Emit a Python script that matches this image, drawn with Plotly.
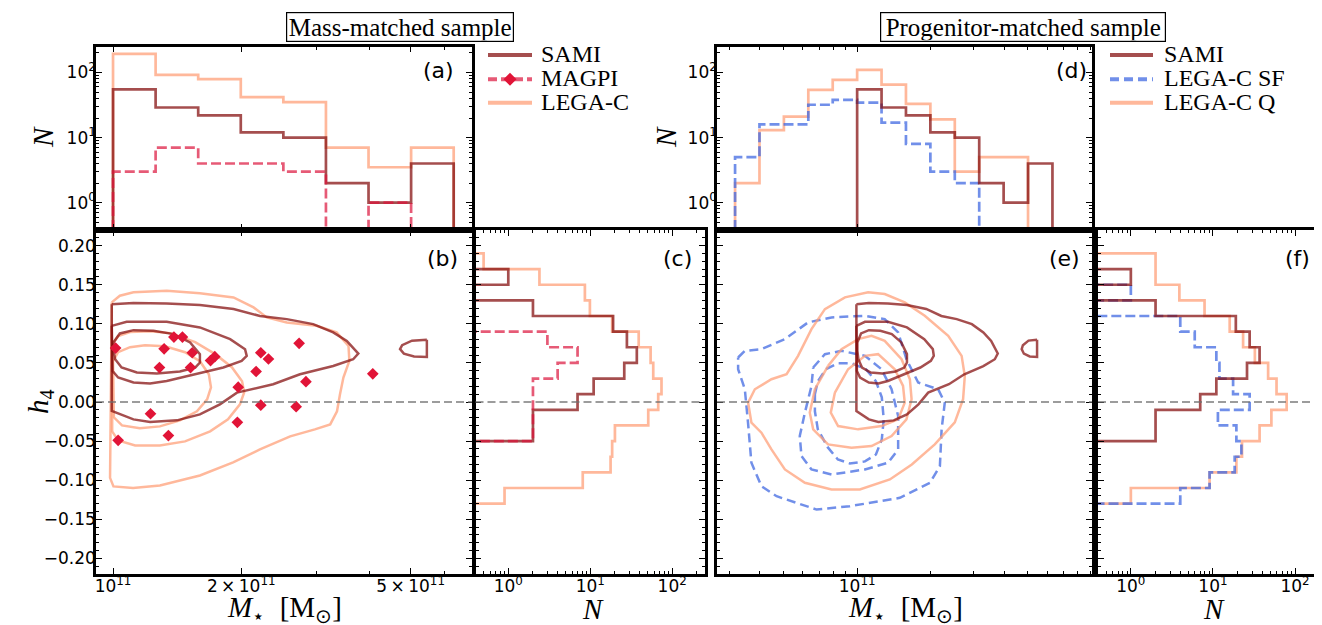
import numpy as np
import plotly.graph_objects as go

# page body adds an 8 px margin; the figure is sized so that it fills the 1322x625 window from there
OFF = 8
W, H = 1322 - OFF, 625 - OFF

# ---------------- data ----------------
# panel (a): stellar-mass histograms, mass-matched sample (bin edges in log10 M*)
mass_edges_a = [11.0, 11.1, 11.2, 11.3, 11.4, 11.5, 11.6, 11.7, 11.8]
legac_a = [194, 92, 79, 42, 35, 7, 3.5, 7]
sami_a = [55, 29, 22, 12, 10, 2, 1, 4]
magpi_a = [3, 7, 4, 4, 3, 0, 1, 0]

# panel (d): progenitor-matched sample
mass_edges_d = [10.5, 10.6, 10.7, 10.8, 10.9, 11.0, 11.1, 11.2, 11.3, 11.4, 11.5, 11.6, 11.7, 11.8]
legac_q_d = [2, 13, 21, 54, 77, 110, 65, 33, 19, 3, 5, 5, 0]
legac_sf_d = [5, 16, 16, 32, 38, 34.5, 17, 8, 3, 2, 0, 0, 0]
sami_d = [0, 0, 0, 0, 0, 55, 29, 22, 12, 10, 2, 1, 4]

# panels (c), (f): h4 histograms
h4_edges = [-0.13, -0.11, -0.09, -0.07, -0.05, -0.03, -0.01, 0.01, 0.03,
            0.05, 0.07, 0.09, 0.11, 0.13, 0.15, 0.17, 0.19]
sami_h4 = [0, 0, 0, 0, 2, 2, 7, 11, 26, 37, 28, 19, 2, 0, 1, 0]
magpi_h4 = [0, 0, 0, 0, 2, 2, 2, 2, 4, 7, 3, 0, 0, 0, 0, 0]
legac_h4_c = [0.9, 8.1, 17.7, 18.5, 20, 51, 67.5, 74, 58.7, 54.5, 39, 18.5, 9.9, 8.6, 2.4, 0.5]
legac_q_h4 = [1.0, 9.1, 19.3, 22.6, 37, 51.5, 79, 59.5, 47, 32.4, 23.3, 16, 7.9, 3.9, 2.0, 2.0]
legac_sf_h4 = [4, 9.1, 18.4, 22.2, 19.3, 11.5, 28, 17.6, 12, 11, 6, 4, 0, 1, 0, 0]

# MAGPI individual galaxies (log10 M*, h4)
magpi_logm = [11.006, 11.120, 11.143, 11.163, 11.186, 11.109, 11.182, 11.229, 11.239, 11.347, 11.365,
              11.437, 11.336, 11.453, 11.610, 11.294, 11.347, 11.430, 11.088, 11.292, 11.012, 11.130]
magpi_h4_pts = [0.069, 0.068, 0.083, 0.083, 0.063, 0.044, 0.044, 0.053, 0.058, 0.063, 0.055,
                0.075, 0.039, 0.026, 0.036, 0.019, -0.004, -0.006, -0.015, -0.026, -0.049, -0.043]

# density contours (log10 M*, h4)
sami_c1_m = [10.997, 11.048, 11.126, 11.204, 11.283, 11.345, 11.408, 11.470, 11.517, 11.549, 11.576, 11.564,
             11.517, 11.439, 11.376, 11.314, 11.291, 11.251, 11.204, 11.150, 11.087, 11.048, 10.997]
sami_c1_h = [0.125, 0.1265, 0.126, 0.124, 0.119, 0.110, 0.106, 0.0996, 0.089, 0.078, 0.062, 0.0547,
             0.046, 0.0355, 0.0227, 0.015, 0.012, -0.003, -0.0158, -0.0235, -0.0256, -0.0222, -0.0115]
sami_c2_m = [10.997, 11.032, 11.126, 11.204, 11.275, 11.310, 11.314, 11.302, 11.259, 11.189, 11.126,
             11.087, 11.048, 11.012, 10.999]
sami_c2_h = [0.0974, 0.1026, 0.1026, 0.0954, 0.0804, 0.0676, 0.059, 0.0526, 0.0441, 0.0346, 0.0269,
             0.0236, 0.0249, 0.0313, 0.0397]
sami_c3_m = [11.001, 11.016, 11.048, 11.095, 11.142, 11.181, 11.204, 11.204, 11.193, 11.157, 11.103,
             11.056, 11.020, 11.005, 11.001]
sami_c3_h = [0.0762, 0.0877, 0.0919, 0.091, 0.0868, 0.0762, 0.0612, 0.0505, 0.0441, 0.039, 0.0364,
             0.0377, 0.0441, 0.0547, 0.0654]
sami_isl_m = [11.737, 11.702, 11.679, 11.674, 11.683, 11.707, 11.737]
sami_isl_h = [0.0795, 0.0785, 0.0727, 0.0676, 0.0618, 0.0582, 0.0577]

legac_c1_m = [10.997, 11.016, 11.048, 11.126, 11.204, 11.283, 11.330, 11.361, 11.408, 11.478, 11.525, 11.553,
              11.555, 11.541, 11.533, 11.526, 11.510, 11.474, 11.416, 11.345, 11.282, 11.204, 11.110,
              11.047, 11.001, 10.993]
legac_c1_h = [0.1274, 0.1359, 0.1403, 0.1423, 0.139, 0.1338, 0.121, 0.1082, 0.1018, 0.0974, 0.089, 0.0718,
              0.0526, 0.0313, 0.0099, -0.0119, -0.0286, -0.035, -0.044, -0.0606, -0.0773, -0.094, -0.1068,
              -0.11, -0.108, -0.097]
legac_c2_m = [10.998, 11.012, 11.040, 11.087, 11.134, 11.193, 11.240, 11.279, 11.303, 11.308, 11.298,
              11.270, 11.228, 11.169, 11.110, 11.052, 11.012, 10.998]
legac_c2_h = [0.074, 0.0842, 0.0894, 0.0906, 0.0881, 0.0765, 0.0612, 0.0445, 0.0265, 0.0124, -0.0029,
              -0.0222, -0.0376, -0.0504, -0.0555, -0.0555, -0.0491, -0.0376]
legac_c3_m = [11.000, 11.012, 11.040, 11.075, 11.122, 11.169, 11.204, 11.225, 11.230, 11.221, 11.197,
              11.157, 11.110, 11.063, 11.021, 11.002]
legac_c3_h = [0.0522, 0.0637, 0.0701, 0.0727, 0.0714, 0.0637, 0.0522, 0.0355, 0.0188, 0.0035, -0.0119,
              -0.0235, -0.0312, -0.0337, -0.0299, -0.0196]

sf_c1_m = [10.5125, 10.540, 10.608, 10.704, 10.799, 10.895, 11.032, 11.113, 11.168, 11.202, 11.250, 11.332,
           11.359, 11.346, 11.339, 11.298, 11.175, 10.970, 10.834, 10.670, 10.608, 10.567, 10.553, 10.540,
           10.5125]
sf_c1_h = [0.0569, 0.0654, 0.0676, 0.0804, 0.1018, 0.1082, 0.1103, 0.106, 0.089, 0.0547, 0.0249, 0.0163,
           -0.0008, -0.035, -0.082, -0.1033, -0.1226, -0.1333, -0.1376, -0.1205, -0.1077, -0.0777, -0.0264,
           0.0163, 0.0419]
sf_c2_m = [10.820, 10.868, 10.936, 11.032, 11.100, 11.141, 11.168, 11.168, 11.127, 11.032, 10.895, 10.813,
           10.772, 10.765, 10.786, 10.813]
sf_c2_h = [0.0441, 0.0612, 0.0654, 0.059, 0.0419, 0.0163, -0.018, -0.0606, -0.0777, -0.0863, -0.0927,
           -0.0863, -0.0692, -0.0436, -0.0136, 0.0205]
sf_c3_m = [10.827, 10.839, 10.872, 10.921, 10.978, 11.036, 11.077, 11.101, 11.109, 11.101, 11.077, 11.032,
           10.970, 10.921, 10.880, 10.839, 10.827]
sf_c3_h = [0.0099, 0.0265, 0.0419, 0.0496, 0.0496, 0.0419, 0.0265, 0.006, -0.0222, -0.0478, -0.0671,
           -0.076, -0.0786, -0.0735, -0.0581, -0.035, -0.0119]

q_c1_m = [10.5535, 10.581, 10.649, 10.711, 10.758, 10.813, 10.868, 10.950, 11.045, 11.113, 11.195, 11.277,
          11.373, 11.428, 11.441, 11.434, 11.400, 11.318, 11.224, 11.134, 11.011, 10.895, 10.786, 10.704,
          10.649, 10.608, 10.567]
q_c1_h = [-0.0008, 0.0163, 0.0291, 0.0355, 0.059, 0.0932, 0.1188, 0.1338, 0.1403, 0.1381, 0.1274, 0.1103,
          0.0846, 0.059, 0.0333, 0.0035, -0.026, -0.0542, -0.0799, -0.0991, -0.1119, -0.1119, -0.1033,
          -0.0863, -0.0606, -0.0392, -0.0264]
q_c2_m = [10.881, 10.936, 11.004, 11.059, 11.113, 11.182, 11.216, 11.223, 11.202, 11.141, 11.059, 10.977,
          10.881, 10.820, 10.806, 10.827]
q_c2_h = [0.0462, 0.0676, 0.0804, 0.0846, 0.0782, 0.0547, 0.0291, 0.0035, -0.0222, -0.0436, -0.0564,
          -0.0585, -0.0542, -0.035, -0.0136, 0.0163]
q_c3_m = [10.909, 10.963, 11.032, 11.086, 11.154, 11.188, 11.195, 11.168, 11.100, 11.004, 10.922, 10.892]
q_c3_h = [0.012, 0.0419, 0.059, 0.0612, 0.0419, 0.0205, -0.0008, -0.0222, -0.0308, -0.035, -0.0308, -0.0136]

mass_tick_vals_b = [1e11, 2e11, 5e11]
mass_tick_text_b = ['10<sup>11</sup>', '2\u2009×\u200910<sup>11</sup>', '5\u2009×\u200910<sup>11</sup>']
n_tick_vals = [1, 10, 100]
n_tick_text = ['10<sup>0</sup>', '10<sup>1</sup>', '10<sup>2</sup>']

# ---------------- styles ----------------
C_SAMI = 'rgba(130,10,10,0.72)'
C_LEGAC = 'rgba(255,160,122,0.75)'
C_MAGPI = 'rgba(220,20,60,0.7)'
C_MAGPI_PT = 'rgb(225,20,55)'
C_SF = 'rgba(65,105,225,0.75)'
LW = 2.7
DASH = '10px,4px'
FLOOR = 1e-3


def vstep(edges_log, counts):
    e = 10 ** np.asarray(edges_log, dtype=float)
    c = [v if v > 0 else FLOOR for v in counts]
    xs, ys = [e[0]], [FLOOR]
    for i, v in enumerate(c):
        xs += [e[i], e[i + 1]]
        ys += [v, v]
    xs.append(e[-1]); ys.append(FLOOR)
    return xs, ys


def hstep(edges, counts):
    c = [v if v > 0 else FLOOR for v in counts]
    xs, ys = [FLOOR], [edges[0]]
    for i, v in enumerate(c):
        xs += [v, v]
        ys += [edges[i], edges[i + 1]]
    xs.append(FLOOR); ys.append(edges[-1])
    return xs, ys


def closed(m, h):
    m = list(m) + [m[0]]
    h = list(h) + [h[0]]
    return 10 ** np.asarray(m), h


fig = go.Figure()


def line(x, y, color, ax, dash='solid', width=LW):
    fig.add_trace(go.Scatter(x=x, y=y, mode='lines', line=dict(color=color, width=width, dash=dash),
                             xaxis='x' + ax, yaxis='y' + ax, showlegend=False, hoverinfo='skip'))


# (a)
for counts, col, dash in [(legac_a, C_LEGAC, 'solid'), (sami_a, C_SAMI, 'solid'), (magpi_a, C_MAGPI, DASH)]:
    x, y = vstep(mass_edges_a, counts)
    line(x, y, col, '1', dash)
# (d)
for counts, col, dash in [(legac_q_d, C_LEGAC, 'solid'), (legac_sf_d, C_SF, DASH), (sami_d, C_SAMI, 'solid')]:
    x, y = vstep(mass_edges_d, counts)
    line(x, y, col, '4', dash)
# (c)
for counts, col, dash in [(legac_h4_c, C_LEGAC, 'solid'), (sami_h4, C_SAMI, 'solid'), (magpi_h4, C_MAGPI, DASH)]:
    x, y = hstep(h4_edges, counts)
    line(x, y, col, '3', dash)
# (f)
for counts, col, dash in [(legac_q_h4, C_LEGAC, 'solid'), (legac_sf_h4, C_SF, DASH), (sami_h4, C_SAMI, 'solid')]:
    x, y = hstep(h4_edges, counts)
    line(x, y, col, '6', dash)

# (b) contours
for m, h in [(legac_c1_m, legac_c1_h), (legac_c2_m, legac_c2_h), (legac_c3_m, legac_c3_h)]:
    x, y = closed(m, h)
    line(x, y, C_LEGAC, '2', width=2.5)
for m, h in [(sami_c1_m, sami_c1_h), (sami_c2_m, sami_c2_h), (sami_c3_m, sami_c3_h), (sami_isl_m, sami_isl_h)]:
    x, y = closed(m, h)
    line(x, y, C_SAMI, '2', width=2.5)
fig.add_trace(go.Scatter(x=10 ** np.asarray(magpi_logm), y=magpi_h4_pts, mode='markers',
                         marker=dict(symbol='diamond', size=9, color=C_MAGPI_PT, line=dict(width=0)),
                         xaxis='x2', yaxis='y2', showlegend=False, hoverinfo='skip'))

# (e) contours
for m, h in [(sf_c1_m, sf_c1_h), (sf_c2_m, sf_c2_h), (sf_c3_m, sf_c3_h)]:
    x, y = closed(m, h)
    line(x, y, C_SF, '5', dash='9px,5px', width=2.5)
for m, h in [(q_c1_m, q_c1_h), (q_c2_m, q_c2_h), (q_c3_m, q_c3_h)]:
    x, y = closed(m, h)
    line(x, y, C_LEGAC, '5', width=2.5)
for m, h in [(sami_c1_m, sami_c1_h), (sami_c2_m, sami_c2_h), (sami_c3_m, sami_c3_h), (sami_isl_m, sami_isl_h)]:
    x, y = closed(m, h)
    line(x, y, C_SAMI, '5', width=2.5)


# ---------------- axes ----------------
def xd(a, b):
    return [(a - OFF) / W, min((b - OFF) / W, 1.0)]


def yd(top, bottom):
    return [1 - (bottom - OFF) / H, 1 - (top - OFF) / H]


TICKFONT = dict(family='DejaVu Sans', size=17, color='black')


def base(mirror='allticks'):
    return dict(showline=True, linecolor='black', linewidth=2.6, mirror=mirror, ticks='inside',
                ticklen=6, tickwidth=1.4, tickcolor='black', showgrid=False, zeroline=False,
                tickfont=TICKFONT, layer='above traces')


minor_mass_b = [3e11, 4e11, 6e11]
minor_mass_e = [3e10, 4e10, 5e10, 6e10, 7e10, 8e10, 9e10, 2e11, 3e11, 4e11, 5e11, 6e11, 7e11, 8e11, 9e11]
minor_n = [0.4, 0.5, 0.6, 0.7, 0.8, 0.9, 2, 3, 4, 5, 6, 7, 8, 9, 20, 30, 40, 50, 60, 70, 80, 90, 200]


def minor(vals):
    return dict(ticks='inside', ticklen=3.5, tickwidth=1, tickcolor='black', tickvals=vals, showgrid=False)


def minor_lin():
    return dict(ticks='inside', ticklen=3.5, tickwidth=1, tickcolor='black', dtick=0.01, tick0=0, showgrid=False)


RANGE_B = [10.96, 11.843]
RANGE_E = [10.426, 11.962]
RANGE_NY = [-0.42, 2.4]
RANGE_NX_C = [-0.4, 2.4]
RANGE_NX_F = [-0.4, -0.4 + 224 / 82.1]
RANGE_H = [-0.22, 0.22]
XSTAND = -5
YSTAND = -6

TOP_A, BOT_A, BOT_B = 46.5, 230, 574

layout = dict(
    width=W, height=H, margin=dict(l=0, r=0, t=0, b=0),
    paper_bgcolor='white', plot_bgcolor='white', hovermode=False,
)
# (a)
layout['xaxis'] = dict(base(), domain=xd(96, 472), type='log', range=RANGE_B, anchor='y',
                       tickmode='array', tickvals=mass_tick_vals_b, showticklabels=False, minor=minor(minor_mass_b))
layout['yaxis'] = dict(base(), domain=yd(TOP_A, BOT_A), type='log', range=RANGE_NY, anchor='x',
                       tickmode='array', tickvals=n_tick_vals, ticktext=n_tick_text, minor=minor(minor_n),
                       ticklabelstandoff=YSTAND)
# (b)
layout['xaxis2'] = dict(base(), domain=xd(96, 472), type='log', range=RANGE_B, anchor='y2',
                        tickmode='array', tickvals=mass_tick_vals_b, ticktext=mass_tick_text_b,
                        minor=minor(minor_mass_b), ticklabelstandoff=XSTAND)
layout['yaxis2'] = dict(base(), domain=yd(BOT_A, BOT_B), range=RANGE_H, anchor='x2',
                        tickmode='linear', tick0=0, dtick=0.05, tickformat='.2f', minor=minor_lin(),
                        ticklabelstandoff=YSTAND)
# (c)
layout['xaxis3'] = dict(base(), domain=xd(475.5, 705), type='log', range=RANGE_NX_C, anchor='y3',
                        tickmode='array', tickvals=n_tick_vals, ticktext=n_tick_text, minor=minor(minor_n),
                        ticklabelstandoff=XSTAND)
layout['yaxis3'] = dict(base(), domain=yd(BOT_A, BOT_B), range=RANGE_H, anchor='x3',
                        tickmode='linear', tick0=0, dtick=0.05, showticklabels=False, minor=minor_lin())
# (d)
layout['xaxis4'] = dict(base(), domain=xd(717, 1092), type='log', range=RANGE_E, anchor='y4',
                        tickmode='array', tickvals=[1e11], showticklabels=False, minor=minor(minor_mass_e))
layout['yaxis4'] = dict(base(), domain=yd(TOP_A, BOT_A), type='log', range=RANGE_NY, anchor='x4',
                        tickmode='array', tickvals=n_tick_vals, ticktext=n_tick_text, minor=minor(minor_n),
                        ticklabelstandoff=YSTAND)
# (e)
layout['xaxis5'] = dict(base(), domain=xd(717, 1092), type='log', range=RANGE_E, anchor='y5',
                        tickmode='array', tickvals=[1e11], ticktext=['10<sup>11</sup>'], minor=minor(minor_mass_e),
                        ticklabelstandoff=XSTAND)
layout['yaxis5'] = dict(base(), domain=yd(BOT_A, BOT_B), range=RANGE_H, anchor='x5',
                        tickmode='linear', tick0=0, dtick=0.05, showticklabels=False, minor=minor_lin())
# (f)
layout['xaxis6'] = dict(base(), domain=xd(1098, 1322), type='log', range=RANGE_NX_F, anchor='y6',
                        tickmode='array', tickvals=n_tick_vals, ticktext=n_tick_text, minor=minor(minor_n),
                        ticklabelstandoff=XSTAND)
layout['yaxis6'] = dict(base(mirror=False), domain=yd(BOT_A, BOT_B), range=RANGE_H, anchor='x6',
                        tickmode='linear', tick0=0, dtick=0.05, showticklabels=False, minor=minor_lin())

fig.update_layout(**layout)

# zero lines
for ax in ['2', '3', '5', '6']:
    fig.add_shape(type='line', xref='x%s domain' % ax, yref='y' + ax, x0=0, x1=1, y0=0, y1=0,
                  line=dict(color='rgba(110,110,110,0.9)', width=1.6, dash='8px,4px'), layer='above')


def px(x):
    return (x - OFF) / W


def py(y):
    return 1 - (y - OFF) / H


SERIF = 'Liberation Serif'
ann = []


def text(x, y, s, size, family=SERIF, xanchor='center', angle=0, **kw):
    ann.append(dict(x=px(x), y=py(y), xref='paper', yref='paper', text=s, showarrow=False,
                    xanchor=xanchor, yanchor='middle', textangle=angle,
                    font=dict(family=family, size=size, color='black'), **kw))


# titles
text(399.5, 26.7, 'Mass-matched sample', 25, bordercolor='black', borderwidth=1.2, borderpad=1,
     width=224, height=26, bgcolor='white')
text(1022.5, 26.7, 'Progenitor-matched sample', 25, bordercolor='black', borderwidth=1.2, borderpad=1,
     width=282, height=26, bgcolor='white')

# panel labels
for lab, x, y in [('(a)', 456, 70), ('(b)', 459.5, 259), ('(c)', 693.5, 259),
                  ('(d)', 1088.5, 70), ('(e)', 1082, 259), ('(f)', 1312, 259)]:
    text(x, y, lab, 22, family='DejaVu Sans', xanchor='right')

# axis titles
MLABEL = '<i>M</i><sub>⋆</sub>\u00a0\u00a0[M<sub>⊙</sub>]'
text(43, 137, '<i>N</i>', 29, angle=-90)
text(666, 137, '<i>N</i>', 29, angle=-90)
text(40, 402, '<i>h</i><sub>4</sub>', 29, angle=-90)
text(284, 609, MLABEL, 29)
text(905, 609, MLABEL, 29)
text(593, 609, '<i>N</i>', 29)
text(1214, 609, '<i>N</i>', 29)

# legends
leg_rows = [55, 79.3, 102.7]
left_legend = [('SAMI', C_SAMI, 'solid'), ('MAGPI', C_MAGPI, '9px,4px'), ('LEGA-C', C_LEGAC, 'solid')]
right_legend = [('SAMI', C_SAMI, 'solid'), ('LEGA-C SF', C_SF, '9px,5px'), ('LEGA-C Q', C_LEGAC, 'solid')]
for (x0, x1, xt), entries in [((488, 532, 539), left_legend), ((1110, 1153, 1161.5), right_legend)]:
    for yrow, (lab, col, dash) in zip(leg_rows, entries):
        fig.add_shape(type='line', xref='paper', yref='paper', x0=px(x0), x1=px(x1), y0=py(yrow), y1=py(yrow),
                      line=dict(color=col, width=4, dash=dash))
        text(xt, yrow - 1, lab, 24, xanchor='left')
        if lab == 'MAGPI':
            cx, cy, r = (x0 + x1) / 2, yrow, 6.5
            path = 'M %f %f L %f %f L %f %f L %f %f Z' % (px(cx - r), py(cy), px(cx), py(cy - r),
                                                          px(cx + r), py(cy), px(cx), py(cy + r))
            fig.add_shape(type='path', xref='paper', yref='paper', path=path,
                          fillcolor=C_MAGPI_PT, line=dict(width=0))

fig.update_layout(annotations=ann)
fig.write_html('out.html')
